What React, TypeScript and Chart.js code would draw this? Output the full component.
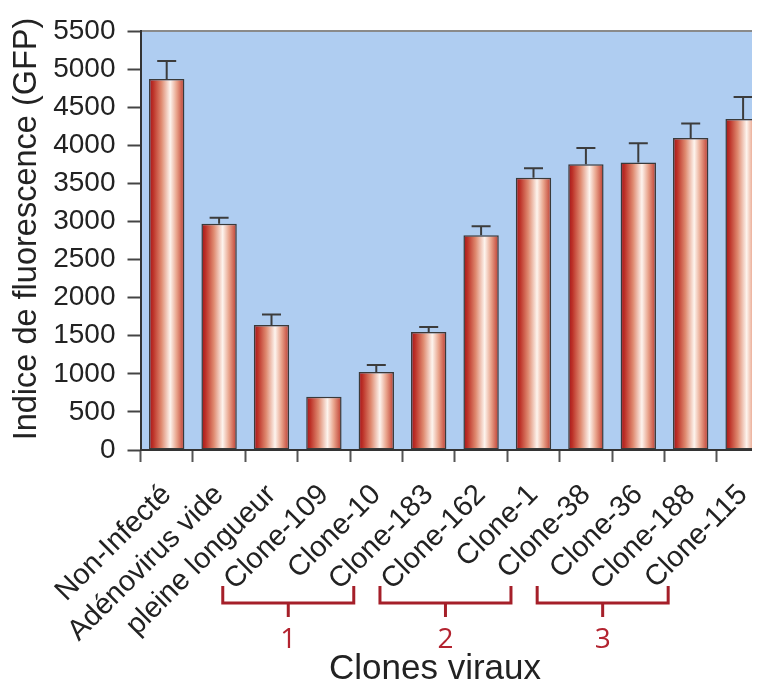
import React, { useEffect, useRef } from "react";
import { Chart, registerables } from "chart.js";

Chart.register(...registerables);

const categories = [
  "Non-Infecté",
  "Adénovirus vide",
  "pleine longueur",
  "Clone-109",
  "Clone-10",
  "Clone-183",
  "Clone-162",
  "Clone-1",
  "Clone-38",
  "Clone-36",
  "Clone-188",
  "Clone-115",
];
const fluorescence = [4870, 2970, 1640, 700, 1025, 1550, 2820, 3575, 3750, 3775, 4095, 4345];
const errors = [235, 78, 140, 0, 90, 65, 118, 125, 215, 250, 190, 290];
const groups = [
  { label: "1", from: 3, to: 5 },
  { label: "2", from: 6, to: 8 },
  { label: "3", from: 9, to: 11 },
];
const yTitle = "Indice de fluorescence (GFP)";
const xTitle = "Clones viraux";
const yMax = 5500;
const yStep = 500;

const FONT = "'Liberation Sans', Arial, Helvetica, sans-serif";
const BAR_PCT = 0.675;

const decorPlugin = {
  id: "decor",
  beforeDraw(chart: any) {
    const { ctx, chartArea } = chart;
    ctx.save();
    ctx.fillStyle = "#ffffff";
    ctx.fillRect(0, 0, chart.width, chart.height);
    ctx.fillStyle = "#afcdf1";
    ctx.fillRect(chartArea.left, chartArea.top, chart.width - chartArea.left, chartArea.bottom - chartArea.top);
    ctx.strokeStyle = "#8a8a8a";
    ctx.lineWidth = 2;
    ctx.beginPath();
    ctx.moveTo(chartArea.left, chartArea.top);
    ctx.lineTo(chart.width, chartArea.top);
    ctx.stroke();
    ctx.restore();
  },
  afterDatasetsDraw(chart: any) {
    const { ctx } = chart;
    const xs = chart.scales.x;
    const ys = chart.scales.y;
    ctx.save();
    ctx.strokeStyle = "#3c3c3c";
    ctx.lineWidth = 2;
    fluorescence.forEach((v, i) => {
      const e = errors[i];
      if (!e) return;
      const x = xs.getPixelForValue(i);
      const y0 = ys.getPixelForValue(v);
      const y1 = ys.getPixelForValue(v + e);
      ctx.beginPath();
      ctx.moveTo(x, y0);
      ctx.lineTo(x, y1);
      ctx.moveTo(x - 9.5, y1);
      ctx.lineTo(x + 9.5, y1);
      ctx.stroke();
    });
    ctx.restore();
  },
  afterDraw(chart: any) {
    const { ctx, chartArea } = chart;
    const xs = chart.scales.x;
    const step = (chartArea.right - chartArea.left) / categories.length;
    ctx.save();
    ctx.strokeStyle = "#a51f29";
    ctx.lineWidth = 3;
    ctx.lineJoin = "miter";
    groups.forEach((g) => {
      const l = xs.getPixelForValue(g.from) - 1.93 * step;
      const r = xs.getPixelForValue(g.to) - 1.43 * step;
      const m = (l + r) / 2;
      ctx.beginPath();
      ctx.moveTo(l, 586);
      ctx.lineTo(l, 603);
      ctx.lineTo(r, 603);
      ctx.lineTo(r, 586);
      ctx.moveTo(m, 603);
      ctx.lineTo(m, 617);
      ctx.stroke();
      ctx.fillStyle = "#b3232f";
      ctx.font = "28px 'Open Sans', 'Noto Sans', sans-serif";
      ctx.textAlign = "center";
      ctx.textBaseline = "middle";
      ctx.fillText(g.label, m, 640);
    });
    ctx.fillStyle = "#222222";
    ctx.font = `35px ${FONT}`;
    ctx.textAlign = "center";
    ctx.textBaseline = "middle";
    ctx.fillText(xTitle, 435, 669);
    ctx.translate(27, 229);
    ctx.rotate(-Math.PI / 2);
    ctx.font = `32.5px ${FONT}`;
    ctx.fillText(yTitle, 0, 0);
    ctx.restore();
  },
};

function barGradient(c: any) {
  const chart = c.chart;
  const xs = chart.scales && chart.scales.x;
  if (!chart.chartArea || !xs || c.dataIndex === undefined) return "#d05a48";
  const cx = xs.getPixelForValue(c.dataIndex);
  const w = ((chart.chartArea.right - chart.chartArea.left) / categories.length) * BAR_PCT;
  const g = chart.ctx.createLinearGradient(cx - w / 2, 0, cx + w / 2, 0);
  g.addColorStop(0, "#a3141a");
  g.addColorStop(0.12, "#bd3228");
  g.addColorStop(0.35, "#df8a70");
  g.addColorStop(0.6, "#fdf4ee");
  g.addColorStop(0.78, "#e9a48c");
  g.addColorStop(1, "#bd3a2e");
  return g;
}

export default function App() {
  const ref = useRef<HTMLCanvasElement | null>(null);
  useEffect(() => {
    if (!ref.current) return;
    const chart = new Chart(ref.current, {
      type: "bar",
      data: {
        labels: categories,
        datasets: [
          {
            data: fluorescence,
            backgroundColor: barGradient as any,
            borderColor: "#3a3a3a",
            borderWidth: 1.5,
            borderSkipped: false,
            barPercentage: BAR_PCT,
            categoryPercentage: 1,
          },
        ],
      },
      options: {
        animation: false,
        responsive: true,
        maintainAspectRatio: false,
        layout: { padding: { top: 31, left: 0, right: 0.7, bottom: 0 } },
        plugins: { legend: { display: false }, tooltip: { enabled: false } },
        scales: {
          x: {
            grid: { display: true, drawOnChartArea: false, drawTicks: true, tickLength: 12, tickColor: "#555", tickWidth: 2 },
            border: { display: true, color: "#333", width: 2 },
            ticks: {
              autoSkip: false,
              minRotation: 45,
              maxRotation: 45,
              padding: 16,
              color: "#222",
              font: { family: FONT, size: 29 },
            },
            afterFit: (s: any) => {
              s.height = 237;
              s.paddingLeft = 0;
              s.paddingRight = 0;
            },
          },
          y: {
            min: 0,
            max: yMax,
            grid: { display: true, drawOnChartArea: false, drawTicks: true, tickLength: 13, tickColor: "#444", tickWidth: 2 },
            border: { display: true, color: "#333", width: 2 },
            ticks: {
              stepSize: yStep,
              padding: 12,
              color: "#222",
              font: { family: FONT, size: 28 },
              callback: (v: any) => String(v),
            },
            afterFit: (s: any) => {
              s.width = 140.5;
            },
          },
        },
      },
      plugins: [decorPlugin],
    });
    return () => chart.destroy();
  }, []);
  return (
    <div style={{ margin: "-8px", width: 760, height: 687, overflow: "hidden", background: "#fff" }}>
      <div style={{ position: "relative", width: 770, height: 687 }}>
        <canvas ref={ref} />
      </div>
    </div>
  );
}
